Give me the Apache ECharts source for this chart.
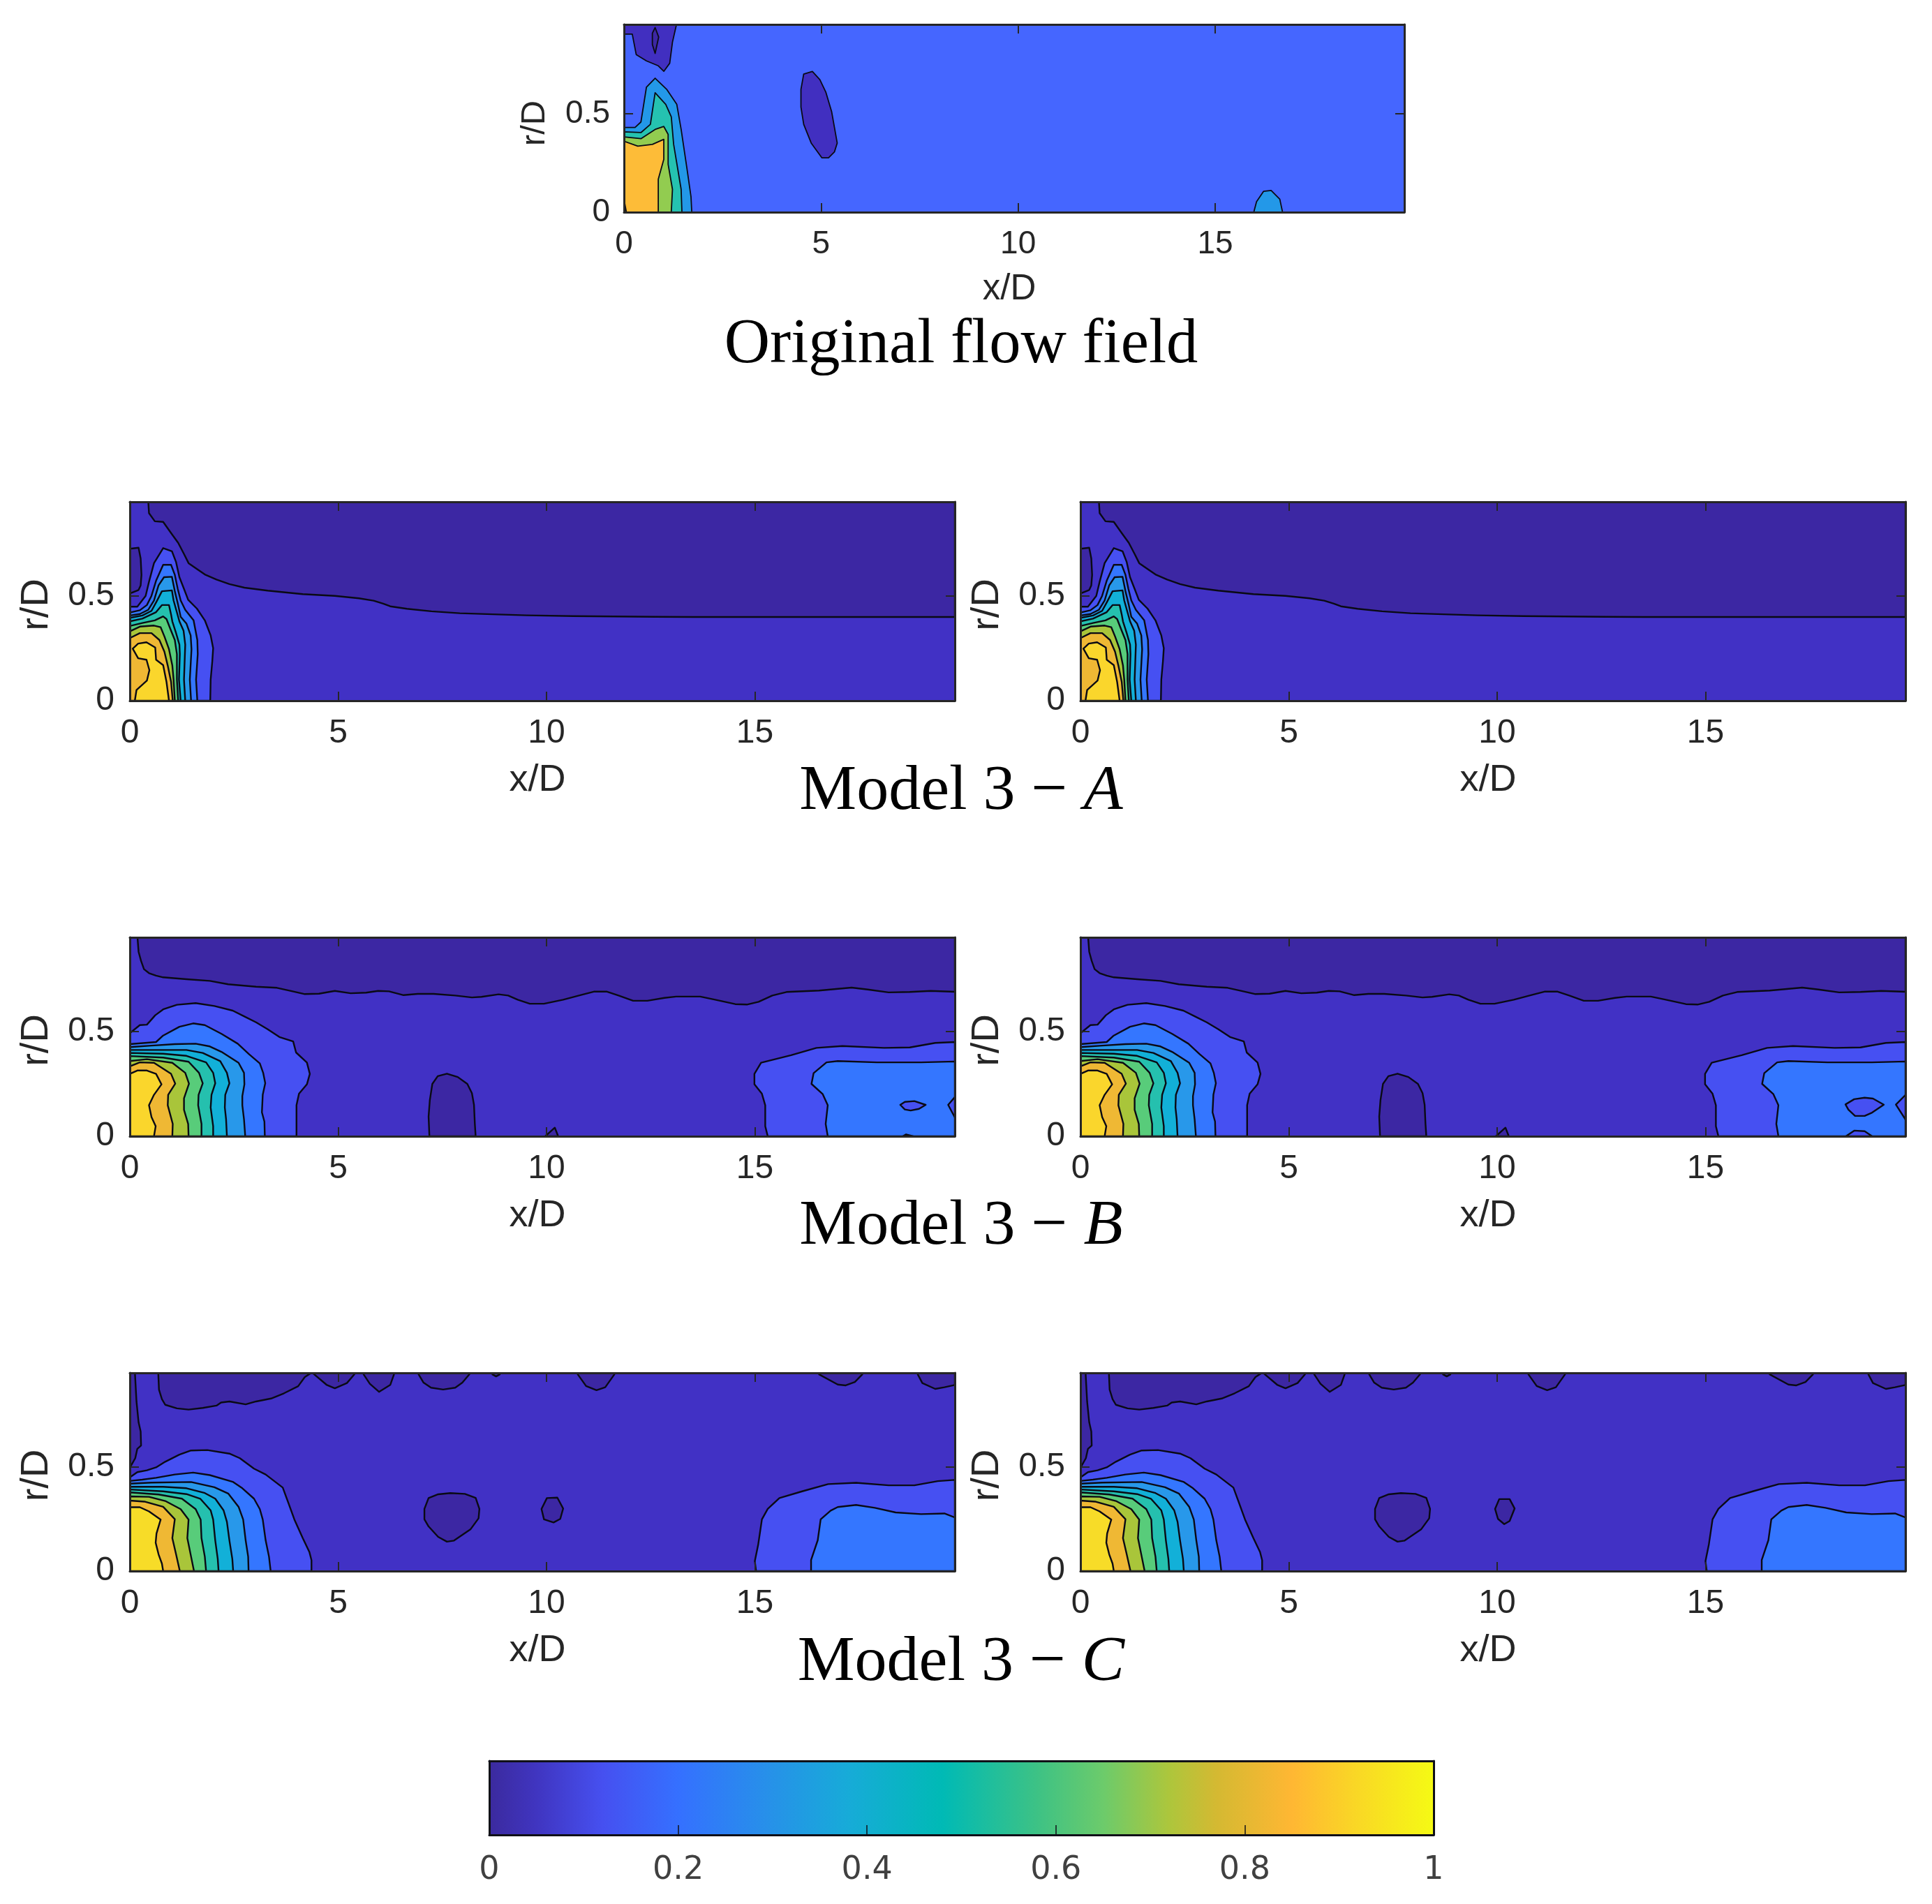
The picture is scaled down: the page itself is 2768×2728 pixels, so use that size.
<!doctype html>
<html>
<head>
<meta charset="utf-8">
<style>html,body{margin:0;padding:0;background:#fff}#main{width:2768px;height:2728px}</style>
</head>
<body>
<div id="main"></div>
<script src="https://cdn.jsdelivr.net/npm/echarts@6/dist/echarts.min.js"></script>
<script>
// axis ticks
var xTicks = [0, 5, 10, 15];
var rTicks = [0, 0.5];
var barTicks = [0, 0.2, 0.4, 0.6, 0.8, 1];
var xMax = 19.8, rMax = 0.95, rOut = 0.96;

// contour fill colours, low to high
var levelColors = ['#3c27a3', '#4131c5', '#4650f2', '#3476ff', '#2898ea', '#12b0d8', '#25c0ae', '#58cc7a', '#a9c53a', '#efb834', '#fad62c', '#f7dc28'];
var origColors = ['#3c27a3', '#412fc0', '#4566ff', '#2398e8', '#25c2b0', '#92cc50', '#fdbc38'];

// colorbar
var barStops = [0, 0.05, 0.12, 0.2, 0.3, 0.38, 0.48, 0.58, 0.65, 0.72, 0.77, 0.85, 0.92, 1];
var barColors = ['#3b2a9e', '#4035c0', '#4650f0', '#3570ff', '#2692e8', '#17abd8', '#00bab5', '#3dc285', '#6ccb6b', '#adc63c', '#d4b932', '#ffb733', '#f9d825', '#f5fa14'];

var whole = [[0, 0], [xMax, 0], [xMax, 1], [0, 1]];

// original flow field, contours as [x/D, r/D]
var oTopLeft = [[0,rOut],[0,.904],[.21,.904],[.31,.8],[.57,.768],[.87,.743],[1.01,.715],[1.16,.756],[1.23,.863],[1.34,rOut]];
var oTopCore = [[.79,.937],[.88,.889],[.79,.806],[.72,.851],[.72,.908]];
var oBlob5 = [[4.56,.701],[4.78,.714],[4.97,.673],[5.12,.61],[5.27,.509],[5.41,.351],[5.34,.306],[5.19,.276],[5.02,.276],[4.75,.351],[4.56,.446],[4.49,.534],[4.49,.623]];
var oBlob16 = [[15.98,0],[16.05,.053],[16.23,.106],[16.42,.11],[16.64,.066],[16.71,0]];
var oJet3 = [[0,.43],[.28,.43],[.43,.458],[.57,.635],[.79,.68],[1.09,.622],[1.34,.547],[1.45,.42],[1.6,.218],[1.7,.078],[1.72,0],[0,0]];
var oJet4 = [[0,.408],[.43,.404],[.67,.446],[.79,.606],[1.06,.547],[1.2,.484],[1.26,.344],[1.45,.116],[1.47,0],[0,0]];
var oJet5 = [[0,.382],[.43,.373],[.79,.42],[1.01,.435],[1.12,.395],[1.12,.243],[1.23,.116],[1.2,0],[0,0]];
var oJet6 = [[0,.36],[.35,.335],[.72,.344],[1.01,.37],[1.01,.268],[.87,.167],[.87,0],[.06,0],[0,.066]];

// model 3 - A
var aDark = [[.44,rOut],[.46,.896],[.6,.857],[.8,.854],[.99,.801],[1.16,.754],[1.3,.701],[1.41,.657],[1.61,.629],[1.8,.603],[2.08,.579],[2.39,.557],[2.75,.54],[3.31,.526],[4.15,.509],[4.92,.501],[5.5,.489],[5.85,.478],[6.08,.464],[6.25,.451],[6.65,.439],[7.24,.427],[7.92,.418],[8.84,.412],[9.53,.408],[10.64,.404],[12.6,.401],[13.5,.4],[xMax,.4],[xMax,rOut]];
var aDarkLeft = [[0,.726],[.21,.731],[.26,.679],[.28,.601],[.26,.551],[.21,.529],[0,.512]];
var a2 = [[0,.449],[.18,.449],[.38,.501],[.46,.568],[.58,.657],[.8,.729],[1.01,.714],[1.11,.662],[1.19,.59],[1.3,.534],[1.4,.482],[1.61,.44],[1.8,.384],[1.94,.312],[2,.251],[1.98,.19],[1.94,.101],[1.93,0],[0,0]];
var a3 = [[0,.421],[.24,.432],[.41,.457],[.52,.501],[.63,.573],[.8,.649],[.99,.649],[1.08,.601],[1.15,.534],[1.22,.479],[1.33,.434],[1.53,.384],[1.62,.29],[1.63,.223],[1.59,.101],[1.62,0],[0,0]];
var a4 = [[0,.407],[.24,.414],[.44,.434],[.58,.479],[.69,.551],[.82,.59],[1.01,.592],[1.08,.523],[1.16,.457],[1.22,.401],[1.36,.368],[1.46,.312],[1.48,.246],[1.44,.101],[1.47,0],[0,0]];
var a5 = [[0,.396],[.3,.407],[.52,.429],[.64,.473],[.77,.523],[1.01,.527],[1.05,.479],[1.12,.429],[1.19,.379],[1.29,.334],[1.33,.268],[1.3,.101],[1.33,0],[0,0]];
var a6 = [[0,.379],[.3,.392],[.63,.423],[.77,.457],[.94,.457],[.99,.412],[1.02,.379],[1.11,.323],[1.19,.268],[1.2,.223],[1.18,.101],[1.22,0],[0,0]];
var a7 = [[0,.357],[.3,.371],[.6,.384],[.8,.403],[.88,.39],[.99,.334],[1.08,.29],[1.13,.223],[1.13,.101],[1.16,0],[0,0]];
var a8 = [[0,.331],[.24,.354],[.58,.359],[.74,.351],[.83,.307],[.94,.246],[1.02,.168],[1.05,.101],[1.08,0],[0,0]];
var a9 = [[0,.299],[.24,.323],[.52,.323],[.71,.29],[.83,.234],[.91,.168],[.99,.09],[1.03,0],[0,0]];
var a10 = [[.07,.249],[.2,.273],[.4,.279],[.61,.254],[.63,.196],[.8,.17],[.88,.09],[.94,0],[.12,0],[.16,.051],[.41,.096],[.47,.146],[.4,.196],[.2,.203]];

// model 3 - B
var bDark = [[.18,rOut],[.21,.881],[.27,.837],[.34,.798],[.46,.779],[.63,.767],[.8,.759],[1.36,.75],[1.92,.742],[2.36,.726],[3.03,.714],[3.53,.709],[3.87,.694],[4.2,.679],[4.54,.681],[4.92,.694],[5.3,.683],[5.67,.686],[5.96,.694],[6.22,.692],[6.57,.674],[6.91,.68],[7.29,.68],[7.81,.672],[8.21,.663],[8.44,.666],[8.85,.678],[9.08,.672],[9.31,.652],[9.6,.633],[9.94,.633],[10.4,.652],[10.81,.674],[11.15,.691],[11.44,.691],[11.73,.672],[12.08,.647],[12.42,.647],[12.83,.661],[13.11,.667],[13.69,.667],[14.03,.653],[14.53,.631],[14.81,.629],[15.09,.642],[15.42,.672],[15.76,.689],[16.54,.696],[17.32,.71],[17.71,.701],[18.21,.687],[18.72,.689],[19.22,.694],[xMax,.69],[xMax,rOut]];
var bBlob7 = [[7.19,0],[7.17,.094],[7.2,.172],[7.26,.25],[7.39,.287],[7.61,.299],[7.87,.283],[8.1,.25],[8.21,.206],[8.26,.15],[8.28,.061],[8.3,0]];
var bTri10 = [[9.97,0],[10.2,.041],[10.28,0]];
var b2 = [[0,.492],[.24,.531],[.41,.533],[.61,.578],[.8,.606],[1.13,.628],[1.58,.636],[2.03,.622],[2.47,.6],[2.75,.572],[3.03,.544],[3.31,.511],[3.59,.474],[3.92,.453],[3.99,.4],[4.25,.352],[4.32,.298],[4.25,.248],[4.06,.203],[4,.148],[4,0],[0,0]];
var b2Right = [[15.31,0],[15.25,.048],[15.25,.148],[15.17,.203],[14.99,.248],[14.99,.298],[15.15,.351],[15.87,.387],[16.48,.422],[17.1,.431],[18.1,.422],[18.72,.424],[19.33,.446],[xMax,.45],[xMax,0]];
var b3 = [[0,.44],[.63,.45],[.8,.481],[1.19,.523],[1.52,.539],[1.8,.531],[2.2,.489],[2.59,.442],[2.86,.392],[3.12,.348],[3.2,.303],[3.25,.253],[3.19,.198],[3.17,.114],[3.23,.07],[3.24,0],[0,0]];
var b3Right = [[16.75,0],[16.7,.059],[16.75,.148],[16.63,.201],[16.36,.25],[16.41,.301],[16.72,.353],[16.99,.359],[17.93,.353],[18.99,.353],[xMax,.357],[xMax,0]];
var b4 = [[0,.426],[.52,.433],[1.08,.44],[1.58,.442],[1.92,.429],[2.2,.403],[2.61,.351],[2.74,.303],[2.75,.248],[2.7,.192],[2.7,.148],[2.74,.081],[2.77,0],[0,0]];
var b5 = [[0,.412],[.52,.412],[1.36,.412],[1.75,.398],[2.17,.359],[2.33,.303],[2.39,.253],[2.29,.198],[2.28,.137],[2.31,.081],[2.33,0],[0,0]];
var b6 = [[0,.398],[.8,.394],[1.36,.384],[1.83,.353],[2,.303],[2.05,.253],[1.96,.198],[1.94,.137],[2,.048],[2,0],[0,0]];
var b7 = [[0,.383],[.8,.376],[1.41,.356],[1.66,.303],[1.75,.253],[1.65,.198],[1.64,.148],[1.72,.059],[1.72,0],[0,0]];
var b8 = [[0,.359],[.41,.368],[1.02,.351],[1.33,.303],[1.42,.251],[1.3,.181],[1.3,.126],[1.4,.059],[1.41,0],[0,0]];
var b9 = [[0,.334],[.24,.353],[.58,.351],[.99,.298],[1.09,.251],[.92,.198],[.91,.148],[1.03,.059],[1.02,0],[0,0]];
var b10 = [[0,.298],[.18,.314],[.41,.314],[.63,.298],[.76,.248],[.58,.198],[.46,.148],[.52,.092],[.62,.048],[.58,0],[0,0]];
// small holes in the far field, they differ between the two B panels
var bHoleL1 = [[18.49,.15],[18.6,.164],[18.83,.168],[19.1,.15],[18.94,.131],[18.74,.123],[18.6,.128]];
var bHoleL2 = [[xMax,.187],[19.64,.15],[xMax,.09]];
var bHoleL3 = [[18.55,0],[18.63,.009],[18.8,0]];
var bHoleR1 = [[18.36,.152],[18.57,.177],[18.82,.184],[19.02,.18],[19.28,.151],[19,.113],[18.82,.097],[18.59,.097],[18.43,.127]];
var bHoleR2 = [[xMax,.197],[19.57,.151],[xMax,.08]];
var bHoleR3 = [[18.37,0],[18.57,.027],[18.82,.024],[19,0]];

// model 3 - C
var cStrip = [[0,rOut],[.12,rOut],[.16,.813],[.21,.713],[.26,.669],[.27,.602],[.18,.586],[.13,.541],[.02,.502],[0,.495]];
var cTop = [[.68,rOut],[.7,.869],[.77,.824],[.85,.797],[1.13,.78],[1.41,.774],[1.75,.782],[2.08,.793],[2.19,.808],[2.39,.813],[2.78,.799],[3.03,.813],[3.39,.827],[3.7,.852],[4.04,.886],[4.2,.93],[4.37,.952],[4.72,.893],[4.92,.876],[5.21,.901],[5.39,.943],[5.39,rOut]];
var cTop2 = [[5.61,rOut],[5.61,.943],[5.76,.898],[5.98,.859],[6.25,.892],[6.34,.943],[6.34,rOut]];
var cTop3 = [[6.93,rOut],[6.93,.943],[7.05,.903],[7.23,.879],[7.52,.87],[7.81,.879],[7.98,.903],[8.15,.943],[8.15,rOut]];
var cTop4 = [[8.7,rOut],[8.7,.943],[8.79,.933],[8.88,.943],[8.88,rOut]];
var cTop5 = [[10.75,rOut],[10.75,.943],[10.95,.887],[11.2,.867],[11.41,.881],[11.63,.943],[11.63,rOut]];
var cTop6 = [[16.54,rOut],[16.54,.943],[16.99,.894],[17.18,.89],[17.4,.906],[17.58,.943],[17.58,rOut]];
var cTop7 = [[18.91,rOut],[18.91,.943],[19.02,.901],[19.33,.873],[19.55,.881],[xMax,.892],[xMax,rOut]];
var cBlob7 = [[7.17,.35],[7.4,.368],[7.69,.374],[8.04,.37],[8.3,.351],[8.39,.298],[8.37,.253],[8.18,.201],[7.78,.146],[7.61,.141],[7.4,.164],[7.17,.214],[7.07,.248],[7.07,.298]];
var cBlob10L = [[10.01,.35],[10.26,.352],[10.4,.3],[10.33,.25],[10.17,.233],[9.94,.248],[9.88,.298]];
var cBlob10R = [[10.05,.345],[10.3,.345],[10.42,.3],[10.3,.24],[10.17,.225],[10.02,.25],[9.95,.298]];
var c2 = [[0,.449],[.18,.474],[.41,.483],[.63,.497],[.85,.524],[1.19,.558],[1.47,.578],[1.86,.58],[2.39,.563],[2.64,.541],[2.98,.491],[3.26,.463],[3.67,.4],[3.81,.324],[3.95,.247],[4.15,.158],[4.31,.091],[4.36,.052],[4.36,0],[0,0]];
var c2Right = [[15.03,0],[15,.048],[15.08,.126],[15.17,.248],[15.31,.298],[15.59,.35],[16.15,.383],[16.76,.417],[17.43,.423],[18.21,.411],[18.83,.411],[19.39,.431],[xMax,.437],[xMax,0]];
var c3 = [[0,.432],[.3,.438],[.63,.447],[1.08,.463],[1.52,.472],[1.92,.46],[2.47,.428],[2.7,.397],[2.98,.347],[3.12,.297],[3.19,.247],[3.26,.147],[3.34,.069],[3.38,0],[0,0]];
var c3Right = [[16.35,0],[16.35,.053],[16.51,.148],[16.58,.248],[16.82,.29],[16.99,.307],[17.43,.317],[17.88,.303],[18.38,.281],[18.99,.273],[19.55,.276],[xMax,.257],[xMax,0]];
var c4 = [[0,.419],[.52,.424],[1.47,.427],[2.03,.402],[2.36,.372],[2.61,.308],[2.72,.247],[2.78,.147],[2.84,.069],[2.85,0],[0,0]];
var c5 = [[0,.404],[.8,.404],[1.36,.397],[1.8,.374],[2.05,.347],[2.25,.291],[2.33,.236],[2.39,.147],[2.46,.058],[2.48,0],[0,0]];
var c6 = [[0,.391],[.8,.382],[1.36,.369],[1.69,.347],[1.94,.291],[2,.247],[2.05,.147],[2.11,.058],[2.13,0],[0,0]];
var c7 = [[0,.377],[.69,.367],[1.25,.347],[1.58,.297],[1.7,.247],[1.72,.158],[1.8,.069],[1.83,0],[0,0]];
var c8 = [[0,.358],[.46,.356],[.85,.336],[1.22,.297],[1.41,.247],[1.38,.158],[1.47,.069],[1.54,0],[0,0]];
var c9 = [[0,.338],[.35,.333],[.8,.308],[1.08,.249],[1.02,.158],[1.11,.08],[1.2,0],[0,0]];
var c10 = [[0,.306],[.24,.306],[.46,.286],[.74,.247],[.64,.18],[.62,.136],[.69,.08],[.77,.036],[.8,0],[0,0]];

// draw order per panel: [colour index, contour]
var layersO = [[2,whole],[1,oTopLeft],[0,oTopCore],[1,oBlob5],[3,oBlob16],[3,oJet3],[4,oJet4],[5,oJet5],[6,oJet6]];
var layersA = [[1,whole],[0,aDark],[0,aDarkLeft],[2,a2],[3,a3],[4,a4],[5,a5],[6,a6],[7,a7],[8,a8],[9,a9],[10,a10]];
var baseB = [[1,whole],[0,bDark],[0,bBlob7],[0,bTri10],[2,b2],[2,b2Right],[3,b3],[3,b3Right]];
var jetB = [[4,b4],[5,b5],[6,b6],[7,b7],[8,b8],[9,b9],[10,b10]];
var layersBL = baseB.concat([[2,bHoleL1],[2,bHoleL2],[2,bHoleL3]], jetB);
var layersBR = baseB.concat([[2,bHoleR1],[2,bHoleR2],[2,bHoleR3]], jetB);
var baseC = [[1,whole],[0,cStrip],[0,cTop],[0,cTop2],[0,cTop3],[0,cTop4],[0,cTop5],[0,cTop6],[0,cTop7],[0,cBlob7]];
var jetC = [[2,c2],[2,c2Right],[3,c3],[3,c3Right],[4,c4],[5,c5],[6,c6],[7,c7],[8,c8],[9,c9],[11,c10]];
var layersCL = baseC.concat([[0,cBlob10L]], jetC);
var layersCR = baseC.concat([[0,cBlob10R]], jetC);

var chart = echarts.init(document.getElementById('main'));

var frame = '#262626';
var textColor = '#262626';
var grids = [], xAxes = [], yAxes = [], series = [];

function addPanel(box, layers, colors, opt) {
    var g = grids.length;
    grids.push({left: box[0], top: box[1], width: box[2], height: box[3], containLabel: false});
    var line = {show: true, onZero: false, lineStyle: {color: frame, width: 3}};
    var tick = {show: true, inside: true, length: 13, customValues: xTicks, lineStyle: {color: frame, width: 2}};
    var rTick = {show: true, inside: true, length: 13, customValues: rTicks, lineStyle: {color: frame, width: 2}};
    var label = {fontFamily: 'Liberation Sans', fontSize: opt.fontSize, color: textColor};
    xAxes.push({
        gridIndex: g, type: 'value', min: 0, max: xMax, position: 'bottom', z: 10,
        axisLine: line, axisTick: tick, splitLine: {show: false},
        axisLabel: Object.assign({margin: opt.xMargin, customValues: xTicks}, label),
        name: 'x/D', nameLocation: 'middle', nameGap: opt.xNameGap,
        nameTextStyle: {fontFamily: 'Liberation Sans', fontSize: opt.xNameSize, color: textColor, padding: [0, 14, 0, 0]}
    });
    xAxes.push({
        gridIndex: g, type: 'value', min: 0, max: xMax, position: 'top', z: 10,
        axisLine: line, axisTick: tick, axisLabel: {show: false}, splitLine: {show: false}
    });
    yAxes.push({
        gridIndex: g, type: 'value', min: 0, max: opt.rTop, position: 'left', z: 10,
        axisLine: line, axisTick: rTick, splitLine: {show: false},
        axisLabel: Object.assign({margin: opt.yMargin, customValues: rTicks}, label),
        name: 'r/D', nameLocation: 'middle', nameGap: opt.yNameGap,
        nameTextStyle: {fontFamily: 'Liberation Sans', fontSize: opt.yNameSize, color: textColor, padding: [0, opt.yNameShift, 0, 0]}
    });
    yAxes.push({
        gridIndex: g, type: 'value', min: 0, max: opt.rTop, position: 'right', z: 10,
        axisLine: line, axisTick: rTick, axisLabel: {show: false}, splitLine: {show: false}
    });
    series.push({
        type: 'custom', coordinateSystem: 'cartesian2d', clip: true, silent: true, animation: false,
        xAxisIndex: xAxes.length - 2, yAxisIndex: yAxes.length - 2,
        data: layers.map(function (d, i) { return [i]; }),
        renderItem: function (params, api) {
            var layer = layers[params.dataIndex];
            return {
                type: 'polygon',
                shape: {points: layer[1].map(function (p) { return api.coord(p); })},
                style: {
                    fill: colors[layer[0]],
                    stroke: layer[1] === whole ? null : '#0a0a14',
                    lineWidth: opt.lineWidth,
                    lineJoin: 'round'
                }
            };
        }
    });
}

var modelOpt = {fontSize: 48, xMargin: 23, xNameGap: 87, xNameSize: 54, yMargin: 22, yNameGap: 105, yNameSize: 56, yNameShift: 10, rTop: rMax, lineWidth: 2.4};
var origOpt = {fontSize: 46, xMargin: 23, xNameGap: 85, xNameSize: 51, yMargin: 20, yNameGap: 103, yNameSize: 49, yNameShift: 14, rTop: 0.953, lineWidth: 1.8};

addPanel([894, 35, 1118, 269], layersO, origColors, origOpt);
addPanel([186, 719, 1182, 285], layersA, levelColors, modelOpt);
addPanel([1548, 719, 1182, 285], layersA, levelColors, modelOpt);
addPanel([186, 1343, 1182, 285], layersBL, levelColors, modelOpt);
addPanel([1548, 1343, 1182, 285], layersBR, levelColors, modelOpt);
addPanel([186, 1967, 1182, 284], layersCL, levelColors, modelOpt);
addPanel([1548, 1967, 1182, 284], layersCR, levelColors, modelOpt);

// colorbar gets its own small grid
var barGrid = grids.length;
grids.push({left: 701, top: 2523, width: 1353, height: 106});
var barLine = {show: true, onZero: false, lineStyle: {color: '#101018', width: 3}};
xAxes.push({
    gridIndex: barGrid, type: 'value', min: 0, max: 1, position: 'bottom', z: 10,
    axisLine: barLine, splitLine: {show: false},
    axisTick: {show: true, inside: true, length: 14, customValues: barTicks, lineStyle: {color: '#101018', width: 1.5}},
    axisLabel: {margin: 28, customValues: barTicks, fontFamily: 'DejaVu Sans', fontSize: 46, color: '#404040'}
});
xAxes.push({gridIndex: barGrid, type: 'value', min: 0, max: 1, position: 'top', z: 10, axisLine: barLine, axisTick: {show: false}, axisLabel: {show: false}, splitLine: {show: false}});
yAxes.push({gridIndex: barGrid, type: 'value', min: 0, max: 1, position: 'left', z: 10, axisLine: barLine, axisTick: {show: false}, axisLabel: {show: false}, splitLine: {show: false}});
yAxes.push({gridIndex: barGrid, type: 'value', min: 0, max: 1, position: 'right', z: 10, axisLine: barLine, axisTick: {show: false}, axisLabel: {show: false}, splitLine: {show: false}});
series.push({
    type: 'custom', coordinateSystem: 'cartesian2d', silent: true, animation: false,
    xAxisIndex: xAxes.length - 2, yAxisIndex: yAxes.length - 2,
    data: [[0, 0, 1, 1]],
    renderItem: function (params, api) {
        var a = api.coord([api.value(0), api.value(1)]);
        var b = api.coord([api.value(2), api.value(3)]);
        return {
            type: 'rect',
            shape: {x: a[0], y: b[1], width: b[0] - a[0], height: a[1] - b[1]},
            style: {
                fill: new echarts.graphic.LinearGradient(0, 0, 1, 0, barStops.map(function (s, i) {
                    return {offset: s, color: barColors[i]};
                }))
            }
        };
    }
});

function titleItem(text, y, size) {
    return {
        text: text, left: 1372, top: y, textAlign: 'center', textVerticalAlign: 'middle',
        textStyle: {
            fontFamily: 'Liberation Serif', fontWeight: 'normal', fontSize: size, color: '#000',
            rich: {
                n: {fontFamily: 'Liberation Serif', fontSize: size, color: '#000'},
                i: {fontFamily: 'Liberation Serif', fontStyle: 'italic', fontSize: size, color: '#000'}
            }
        }
    };
}

chart.setOption({
    backgroundColor: '#fff',
    animation: false,
    title: [
        titleItem('Original flow field', 490, 90.5),
        titleItem('{n|Model 3 − }{i|A}', 1130, 92),
        titleItem('{n|Model 3 − }{i|B}', 1753, 92),
        titleItem('{n|Model 3 − }{i|C}', 2378, 92)
    ],
    grid: grids,
    xAxis: xAxes,
    yAxis: yAxes,
    series: series
});

window.onresize = chart.resize;
</script>
</body>
</html>
